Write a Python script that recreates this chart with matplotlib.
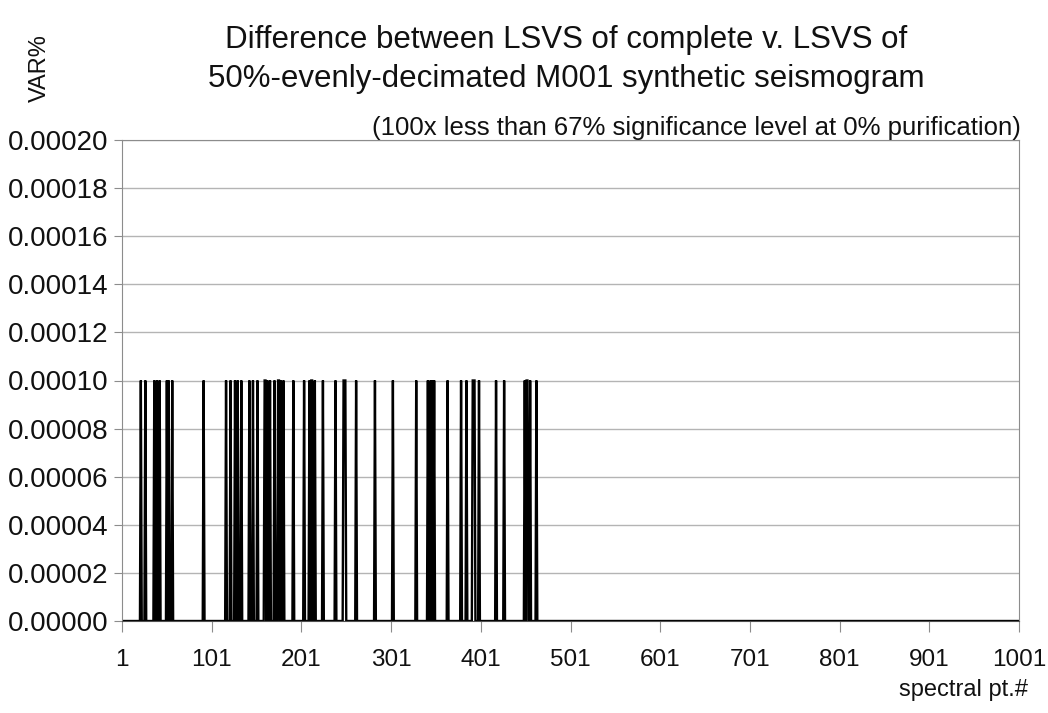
import matplotlib
matplotlib.use("Agg")
import matplotlib.pyplot as plt
import numpy as np
from matplotlib.ticker import FormatStrFormatter

plt.rcParams['font.family'] = ['Liberation Sans', 'DejaVu Sans']

# spectral points where the difference is non-zero
spike_pts = [22, 27, 37, 40, 43, 51, 53, 57, 92,
             117, 122, 127, 130, 134, 143, 147, 152, 160, 161, 163, 166,
             171, 175, 176, 178, 181, 192, 204, 210, 212, 213, 216, 225,
             239, 248, 249, 250, 262, 283, 303, 329, 342, 345, 347, 349,
             364, 379, 385, 392, 393, 394, 399, 418, 427, 450, 452, 453, 456, 463]
spike_val = 0.0001
n_pts = 1001
x_ticks = [1, 101, 201, 301, 401, 501, 601, 701, 801, 901, 1001]

pts = np.arange(1, n_pts + 1)
var = np.zeros(n_pts)
for p in spike_pts:
    var[p - 1] = spike_val

fig = plt.figure(figsize=(10.48, 7.13), dpi=100)
ax = fig.add_axes([122 / 1048, 1 - 621 / 713, (1019 - 122) / 1048, (621 - 140) / 713])

ax.plot(pts, var, color='black', linewidth=1.7, solid_joinstyle='miter')

ax.set_xlim(1, 1001)
ax.set_ylim(0, 0.0002)
ax.set_xticks(x_ticks)
ax.set_yticks(np.arange(0, 0.00021, 0.00002))
ax.yaxis.set_major_formatter(FormatStrFormatter('%.5f'))
ax.grid(axis='y', color='#b4b4b4', linewidth=1)
ax.set_axisbelow(True)

for s in ['top', 'right', 'left']:
    ax.spines[s].set_color('#8c8c8c')
ax.spines['bottom'].set_color('#505050')
ax.tick_params(axis='x', direction='out', length=8, color='#8c8c8c',
               labelsize=17.5, pad=12, labelcolor='#111111')
ax.tick_params(axis='y', direction='out', length=6, color='#8c8c8c',
               labelsize=20, pad=4, labelcolor='#111111')

fig.text(0.54, 0.917, "Difference between LSVS of complete v. LSVS of\n"
         "50%-evenly-decimated M001 synthetic seismogram",
         ha='center', va='center', fontsize=22.5, linespacing=1.4, color='#111111')
fig.text(0.974, 0.803, "(100x less than 67% significance level at 0% purification)",
         ha='right', va='bottom', fontsize=18.5, color='#111111')
fig.text(0.038, 0.905, "VAR%", rotation=90, ha='center', va='center',
         fontsize=17, color='#111111')
fig.text(0.981, 0.032, "spectral pt.#", ha='right', va='center',
         fontsize=17, color='#111111')

fig.savefig("out.png", dpi=100, facecolor='white')
